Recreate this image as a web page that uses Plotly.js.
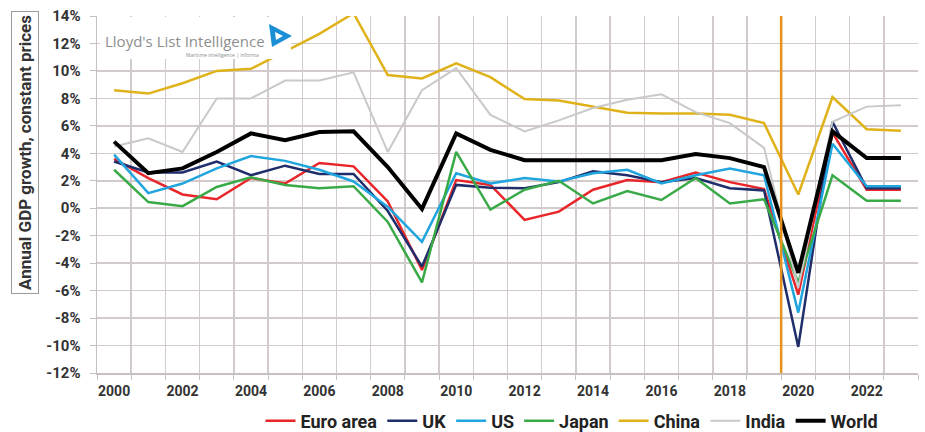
<!DOCTYPE html>
<html><head><meta charset="utf-8">
<script src="https://cdn.plot.ly/plotly-3.0.1.min.js"></script>
<style>html,body{margin:0;padding:0;background:#fff}#chart{width:925px;height:432px}</style>
</head><body><div id="chart"></div>
<script>
const years = ["2000","2001","2002","2003","2004","2005","2006","2007","2008","2009","2010","2011","2012","2013","2014","2015","2016","2017","2018","2019","2020","2021","2022","2023"];
const euroArea = [3.6,2.2,1.0,0.65,2.2,1.8,3.3,3.05,0.5,-4.5,2.05,1.7,-0.85,-0.25,1.35,2.05,1.9,2.6,1.9,1.4,-6.3,5.5,1.35,1.35];
const uk       = [3.4,2.6,2.6,3.4,2.4,3.1,2.5,2.5,-0.2,-4.25,1.7,1.5,1.45,1.9,2.7,2.4,1.9,2.2,1.45,1.3,-10.1,6.3,1.45,1.45];
const us       = [3.9,1.1,1.8,2.9,3.8,3.45,2.8,1.95,0.1,-2.45,2.55,1.8,2.2,1.95,2.55,2.8,1.8,2.4,2.9,2.4,-7.6,4.7,1.6,1.6];
const japan    = [2.8,0.45,0.15,1.55,2.25,1.7,1.45,1.6,-1.0,-5.4,4.1,-0.1,1.35,2.0,0.35,1.25,0.6,2.2,0.35,0.65,-5.4,2.4,0.55,0.55];
const china    = [8.6,8.35,9.1,10.0,10.15,11.4,12.7,14.2,9.7,9.45,10.55,9.55,7.95,7.85,7.4,6.95,6.9,6.9,6.8,6.2,1.0,8.1,5.75,5.65];
const india    = [4.5,5.1,4.1,8.0,8.0,9.3,9.3,9.9,4.1,8.6,10.2,6.8,5.6,6.4,7.3,7.9,8.3,7.0,6.2,4.4,-5.8,6.3,7.4,7.5];
const world    = [4.85,2.55,2.9,4.1,5.45,4.95,5.55,5.6,3.0,-0.05,5.45,4.25,3.5,3.5,3.5,3.5,3.5,3.95,3.65,3.0,-4.7,5.6,3.65,3.65];
const seriesNames = ["Euro area","UK","US","Japan","China","India","World"];
const yTickVals = [-12,-10,-8,-6,-4,-2,0,2,4,6,8,10,12,14];
const yTickText = yTickVals.map(v => v + "%");
const xTickText = years.map(y => (parseInt(y) % 2 === 0 ? y : ""));
const covidBoundary = 19.5;

const seriesData = [euroArea, uk, us, japan, china, india, world];
const colors = ["#e8262a","#1f2d6b","#21a5de","#3aaa48","#e0b21a","#c9c9c9","#000000"];
const widths = [2.5,2.5,2.5,2.5,2.5,2,4];

const FONT = "Roboto, 'Liberation Sans', sans-serif";
const bold = (size, color) => ({family: FONT, size: size, color: color || "#333", weight: "bold"});

const traces = seriesData.map((d,i) => ({
  type: "scatter", mode: "lines", x: years, y: d, name: seriesNames[i],
  line: {color: colors[i], width: widths[i]}
}));

const px2x = px => (px - 97) / 821;
const px2y = py => 1 - (py - 16) / 357;

const layout = {
  width: 925, height: 432,
  margin: {l: 97, r: 7, t: 16, b: 59, autoexpand: false},
  paper_bgcolor: "#ffffff", plot_bgcolor: "#ffffff",
  showlegend: true,
  legend: {orientation: "h", x: px2x(572), xanchor: "center", y: px2y(421), yanchor: "middle",
    font: bold(18, "#222"), itemwidth: 30, tracegroupgap: 0},
  xaxis: {type: "category", tickmode: "array", tickvals: years, ticktext: xTickText, tickangle: 0,
    tickson: "boundaries", showgrid: true, gridcolor: "#d3cbcb", gridwidth: 1.5,
    ticks: "outside", ticklen: 5, tickcolor: "#c8c0c0", showline: true, linecolor: "#c8c0c0", linewidth: 1.5,
    range: [-0.5, 23.5], zeroline: false, ticklabelstandoff: 5,
    tickfont: bold(14)},
  yaxis: {range: [-12, 14], tickmode: "array", tickvals: yTickVals, ticktext: yTickText,
    showgrid: true, gridcolor: "#d3cbcb", gridwidth: 1.5, zeroline: false,
    ticks: "outside", ticklen: 6, tickcolor: "#c8c0c0", showline: true, linecolor: "#c8c0c0", linewidth: 1.5,
    ticklabelstandoff: 6,
    tickfont: bold(15)},
  shapes: [
    {type: "line", xref: "x", yref: "paper", x0: covidBoundary, x1: covidBoundary, y0: 0, y1: 1,
      line: {color: "#e8921e", width: 2.5}, layer: "above"},
    {type: "rect", xref: "paper", yref: "paper", x0: px2x(100), x1: px2x(291), y0: px2y(59), y1: px2y(17),
      fillcolor: "#ffffff", line: {width: 0}, layer: "above"},
    {type: "path", xref: "paper", yref: "paper",
      path: `M ${px2x(269)},${px2y(24)} L ${px2x(292)},${px2y(36)} L ${px2x(272)},${px2y(47)} Z`,
      fillcolor: "#1a8fd6", line: {width: 0}, layer: "above"},
    {type: "path", xref: "paper", yref: "paper",
      path: `M ${px2x(275)},${px2y(32)} L ${px2x(283)},${px2y(36)} L ${px2x(276)},${px2y(40)} Z`,
      fillcolor: "#ffffff", line: {width: 0}, layer: "above"}
  ],
  annotations: [
    {xref: "paper", yref: "paper", x: px2x(25), y: px2y(153), text: "Annual GDP growth, constant prices",
      textangle: -90, showarrow: false, xanchor: "center", yanchor: "middle",
      font: bold(17),
      bordercolor: "#9a9a9a", borderwidth: 1, borderpad: 3, bgcolor: "#ffffff"},
    {xref: "paper", yref: "paper", x: px2x(185), y: px2y(41), text: "Lloyd's List Intelligence",
      showarrow: false, xanchor: "center", yanchor: "middle",
      font: {family: "'Open Sans',sans-serif", size: 15, color: "#8e8e8e"}},
    {xref: "paper", yref: "paper", x: px2x(222), y: px2y(55), text: "Maritime intelligence | informa",
      showarrow: false, xanchor: "center", yanchor: "middle",
      font: {family: "'Open Sans',sans-serif", size: 5, color: "#8e8e8e"}}
  ]
};

Plotly.newPlot("chart", traces, layout, {displayModeBar: false, staticPlot: true});
</script>
</body></html>
